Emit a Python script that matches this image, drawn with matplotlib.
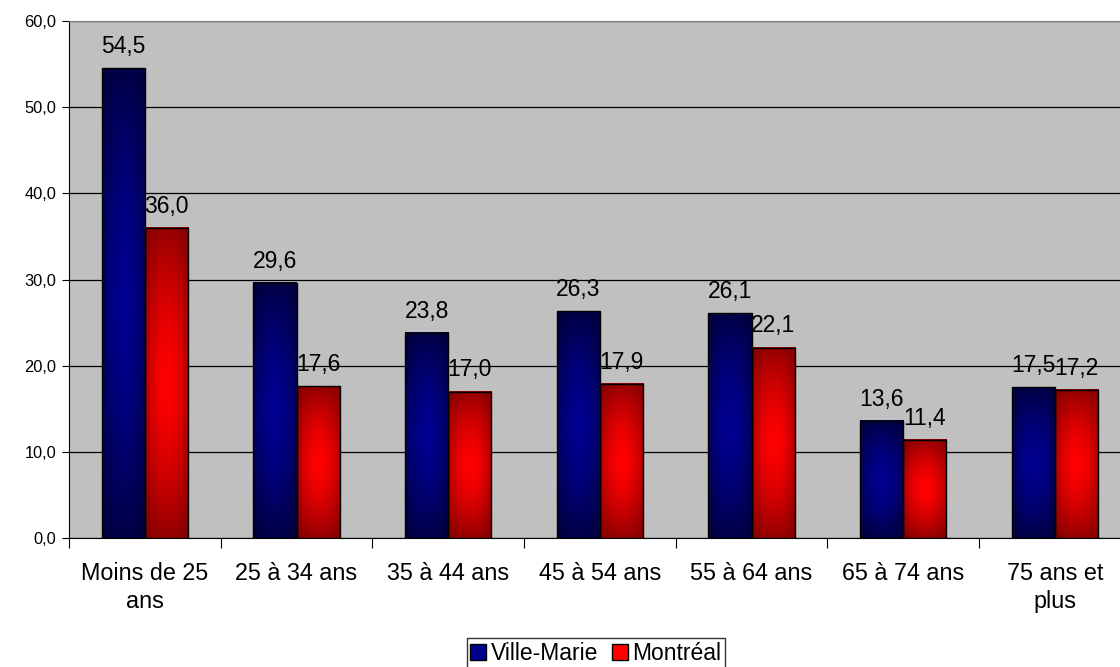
import numpy as np
import matplotlib
matplotlib.use("Agg")
import matplotlib.pyplot as plt
from matplotlib.colors import to_rgb
from matplotlib.patches import Patch

plt.rcParams['font.family'] = ['Liberation Sans', 'DejaVu Sans']

# data
categories = ["Moins de 25\nans", "25 à 34 ans", "35 à 44 ans", "45 à 54 ans",
              "55 à 64 ans", "65 à 74 ans", "75 ans et\nplus"]
ville_marie = [54.5, 29.6, 23.8, 26.3, 26.1, 13.6, 17.5]
montreal = [36.0, 17.6, 17.0, 17.9, 22.1, 11.4, 17.2]
series_names = ["Ville-Marie", "Montréal"]

# dark edge colour, bright centre colour
blue = ("#00002e", "#000090")
red = ("#700000", "#ff0000")


def gradient(dark, bright, nx=40, ny=200):
    u = np.linspace(-1, 1, nx)
    v = np.linspace(-1, 1, ny)
    U, V = np.meshgrid(u, v)
    w = (1 - np.abs(V) ** 1.6 * 0.75) * (1 - 0.55 * U ** 2)
    d = np.array(to_rgb(dark))
    b = np.array(to_rgb(bright))
    return d + (b - d) * w[..., None]


fig = plt.figure(figsize=(11.2, 6.67), dpi=100)
ax = fig.add_axes([0.0616, 0.1934, 0.948, 0.7751])
ax.set_facecolor("#c0c0c0")

x = np.arange(len(categories))
w = 0.285
bars_a = ax.bar(x - w / 2, ville_marie, w, facecolor="none", edgecolor="black", lw=1, zorder=4)
bars_b = ax.bar(x + w / 2, montreal, w, facecolor="none", edgecolor="black", lw=1, zorder=4)

for bars, cols in ((bars_a, blue), (bars_b, red)):
    img = gradient(*cols)
    for r in bars:
        x0, h, bw = r.get_x(), r.get_height(), r.get_width()
        ax.imshow(img, extent=[x0, x0 + bw, 0, h], aspect="auto", zorder=3,
                  interpolation="bilinear")
        ax.text(x0 + bw / 2, h + 1.75, f"{h:.1f}".replace(".", ","),
                ha="center", va="baseline", fontsize=16.5, zorder=5)

ax.set_xlim(-0.5, len(categories) - 0.5)
ax.set_ylim(0, 60)
ax.set_yticks(np.arange(0, 61, 10))
ax.set_yticklabels([f"{t:.1f}".replace(".", ",") for t in np.arange(0, 61, 10)], fontsize=11.8)
ax.yaxis.grid(True, color="black", lw=0.9, zorder=1)
ax.set_axisbelow(True)

# category labels between boundary ticks
ax.set_xticks(np.arange(-0.5, len(categories), 1.0))
ax.set_xticklabels([])
ax.set_xticks(x, minor=True)
ax.set_xticklabels(categories, minor=True, fontsize=16.8, linespacing=1.3)
ax.tick_params(axis="x", which="minor", length=0, pad=17)
ax.tick_params(axis="x", which="major", length=7, color="black")
ax.tick_params(axis="y", length=5, pad=4)

for s in ("left", "bottom"):
    ax.spines[s].set_color("black")
ax.spines["top"].set_color("#808080")
ax.spines["right"].set_visible(False)

handles = [Patch(facecolor=blue[1], edgecolor="black", label=series_names[0]),
           Patch(facecolor=red[1], edgecolor="black", label=series_names[1])]
fig.legend(handles=handles, loc="lower center", bbox_to_anchor=(0.532, -0.005), ncol=2,
           fontsize=16.5, frameon=True, fancybox=False, edgecolor="black",
           handlelength=0.7, handleheight=0.7, handletextpad=0.2, columnspacing=0.6,
           borderpad=0.15, borderaxespad=0.1)

fig.savefig("out.png", dpi=100)
